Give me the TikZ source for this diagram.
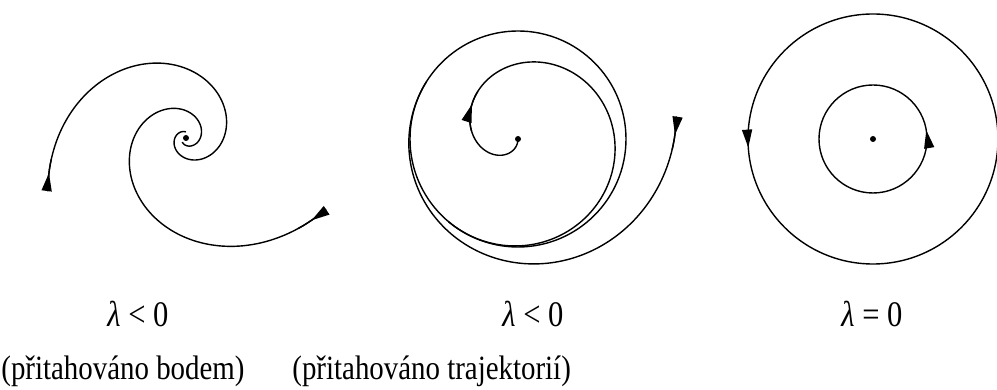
\documentclass[tikz,border=0pt]{standalone}
\usepackage{fontspec}
\setmainfont[FakeStretch=0.85]{Liberation Serif}
\usetikzlibrary{arrows.meta,decorations.markings}
\tikzset{
  orbit/.style={line width=0.7pt},
  flowmark/.style={postaction={decorate},
    decoration={markings,mark=at position #1 with {\arrow{Triangle[length=9pt,width=5pt]}}}},
  caption/.style={font=\fontsize{17}{19}\selectfont, inner sep=0pt},
  sign/.style={font=\fontsize{18}{20}\selectfont, inner sep=0pt}
}
\begin{document}
\begin{tikzpicture}[x=0.5pt,y=0.5pt]
    \useasboundingbox (0,0) rectangle (997,390);
    % Centres of the three phase portraits
    \coordinate (c1) at (186,252);
    \coordinate (c2) at (518,251);
    \coordinate (c3) at (873,251);
    
    % Spiral pulled into the point
    \begin{scope}[shift={(c1)}]
        \draw[orbit] plot[domain=0:470,samples=240] ({201-\x}:{148*exp(-0.0068*\x)});
        \draw[orbit] plot[domain=0:465,samples=240] ({333-\x}:{157*exp(-0.0072*\x)});
        \draw[orbit,flowmark=9pt] plot[domain=0:12,samples=7] ({201-\x}:{148*exp(-0.0068*\x)});
        \draw[orbit,flowmark=9pt] plot[domain=0:12,samples=7] ({333-\x}:{157*exp(-0.0072*\x)});
    \end{scope}
    \fill (c1) circle (1.5pt);
    
    % Limit cycle with one path from inside and one from outside
    \draw[orbit] (c2) circle[radius=108];
    \begin{scope}[shift={(c2)}]
        \draw[orbit] plot[domain=0:400,samples=200] ({270-\x}:{108*(1-(1-\x/400)^2)});
        \draw[orbit] plot[domain=0:220,samples=120] ({8-\x}:{108+52*(1-\x/220)^2});
        \draw[orbit,flowmark=0.65] plot[domain=100:140,samples=9] ({270-\x}:{108*(1-(1-\x/400)^2)});
        \draw[orbit,flowmark=9pt] plot[domain=0:12,samples=7] ({8-\x}:{108+52*(1-\x/220)^2});
    \end{scope}
    \fill (c2) circle (1.5pt);
    
    % Closed orbits round the centre
    \draw[orbit,flowmark=0.511] (c3) circle[radius=125];
    \draw[orbit,flowmark=0.026] (c3) circle[radius=54];
    \fill (c3) circle (1.5pt);
    
    % Labels
    \node[sign] (lab1) at (138,76) {{\itshape λ} < 0};
    \node[sign] (lab2) at (533,76) {{\itshape λ} < 0};
    \node[sign] (lab3) at (872,76) {{\itshape λ} = 0};
    \node[caption,anchor=west] (note1) at (1,19) {(přitahováno bodem)};
    \node[caption,anchor=west] (note2) at (292,19) {(přitahováno trajektorií)};
\end{tikzpicture}
\end{document}
